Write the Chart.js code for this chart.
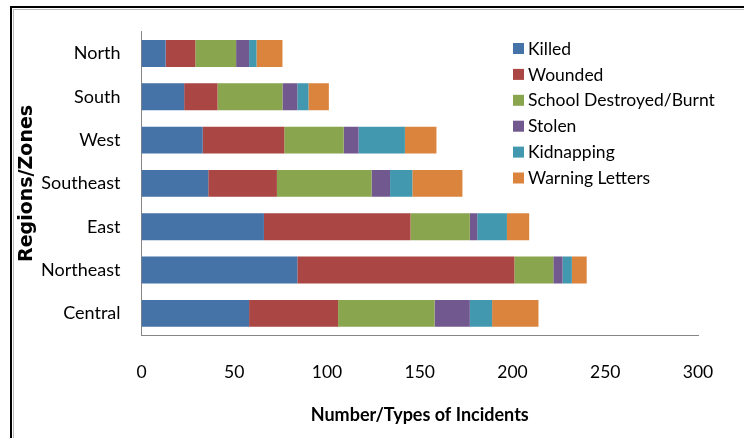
<!DOCTYPE html>
<html>
<head>
<meta charset="utf-8">
<script src="https://cdn.jsdelivr.net/npm/chart.js@4.4.0/dist/chart.umd.min.js"></script>
<style>
  body { margin: 0; background: #fff; }
  .wrap { position: relative; width: 744px; height: 438px; overflow: hidden; }
  .frame { position: absolute; left: 10px; top: 6px; width: 800px; height: 500px;
           border-left: 2px solid #000; border-top: 2px solid #000; pointer-events: none; }
  .frame2 { position: absolute; left: 13px; top: 9px; width: 800px; height: 500px;
            border-left: 1px solid #bbb; border-top: 1px solid #bbb; pointer-events: none; }
</style>
</head>
<body>
<div class="wrap">
  <canvas id="barChart" width="744" height="438"></canvas>
  <div class="frame"></div>
  <div class="frame2"></div>
</div>
<script>
const regions = ['North', 'South', 'West', 'Southeast', 'East', 'Northeast', 'Central'];
const killed = [13, 23, 33, 36, 66, 84, 58];
const wounded = [16, 18, 44, 37, 79, 117, 48];
const schoolDestroyed = [22, 35, 32, 51, 32, 21, 52];
const stolen = [7, 8, 8, 10, 4, 5, 19];
const kidnapping = [4, 6, 25, 12, 16, 5, 12];
const warningLetters = [14, 11, 17, 27, 12, 8, 25];
const xMin = 0, xMax = 300, xStep = 50;

const fontFamily = "Lato, sans-serif";

// legend sits inside the plot area, so it is drawn by hand
const insideLegend = {
    id: 'insideLegend',
    afterDraw(chart) {
        const ctx = chart.ctx;
        ctx.save();
        ctx.font = '17.5px ' + fontFamily;
        ctx.textBaseline = 'middle';
        chart.data.datasets.forEach(function (ds, i) {
            const y = 48 + i * 25.9;
            ctx.fillStyle = ds.backgroundColor;
            ctx.fillRect(513, y - 5, 11, 11);
            ctx.fillStyle = '#000';
            ctx.fillText(ds.label, 528, y + 1);
        });
        ctx.restore();
    }
};

var ctx = document.getElementById('barChart').getContext('2d');
var myChart = new Chart(ctx, {
    type: 'bar',
    data: {
        labels: regions,
        datasets: [
            { label: 'Killed', data: killed, backgroundColor: '#4572A7' },
            { label: 'Wounded', data: wounded, backgroundColor: '#AA4643' },
            { label: 'School Destroyed/Burnt', data: schoolDestroyed, backgroundColor: '#89A54E' },
            { label: 'Stolen', data: stolen, backgroundColor: '#71588F' },
            { label: 'Kidnapping', data: kidnapping, backgroundColor: '#4198AF' },
            { label: 'Warning Letters', data: warningLetters, backgroundColor: '#DB843D' }
        ]
    },
    options: {
        indexAxis: 'y',
        responsive: false,
        animation: false,
        layout: { padding: { left: 0, right: 46, top: 30, bottom: 0 } },
        datasets: { bar: { categoryPercentage: 1, barPercentage: 0.62, borderWidth: 0 } },
        plugins: { legend: { display: false }, tooltip: { enabled: false } },
        scales: {
            x: {
                stacked: true,
                min: xMin,
                max: xMax,
                afterFit: function (s) { s.height = 103; },
                ticks: { stepSize: xStep, padding: 27, color: '#000', font: { family: fontFamily, size: 17.5 } },
                grid: { display: false, drawTicks: false },
                border: { color: '#868686', width: 1 },
                title: { display: true, text: 'Number/Types of Incidents', color: '#000',
                         padding: { bottom: 12 }, font: { family: fontFamily, size: 18, weight: 'bold' } }
            },
            y: {
                stacked: true,
                afterFit: function (s) { s.width = 141.5; },
                ticks: { padding: 21, color: '#000', font: { family: fontFamily, size: 18 } },
                grid: { display: false, drawTicks: false },
                border: { color: '#868686', width: 1 },
                title: { display: true, text: 'Regions/Zones', color: '#000',
                         padding: { top: 16 }, font: { family: "'DejaVu Sans'", size: 19, weight: 'bold' } }
            }
        }
    },
    plugins: [insideLegend]
});
</script>
</body>
</html>
